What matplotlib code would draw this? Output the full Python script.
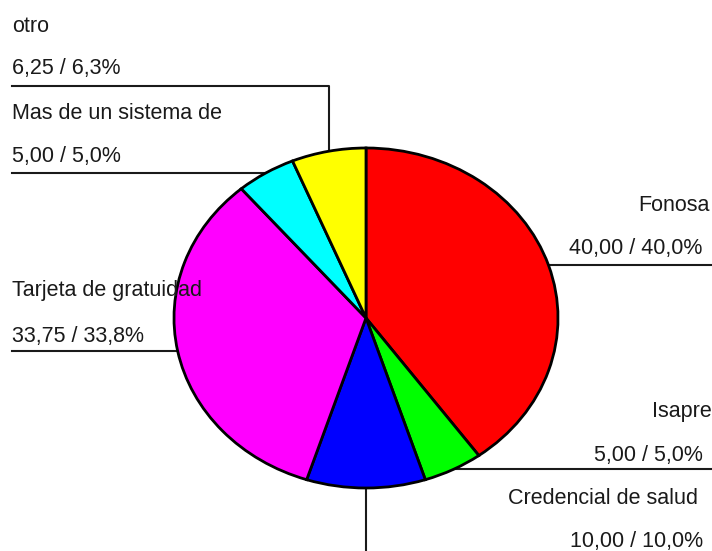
import numpy as np
import matplotlib.pyplot as plt

labels = ["Fonosa", "Isapre", "Credencial de salud", "Tarjeta de gratuidad",
          "Mas de un sistema de", "otro"]
values = [40.00, 5.00, 10.00, 33.75, 5.00, 6.25]
value_text = ["40,00 / 40,0%", "5,00 / 5,0%", "10,00 / 10,0%", "33,75 / 33,8%",
              "5,00 / 5,0%", "6,25 / 6,3%"]
colors = ["#ff0000", "#00ff00", "#0000ff", "#ff00ff", "#00ffff", "#ffff00"]

W, H = 712, 551
cx, cy, rx, ry = 366, 318, 192, 170   # pie centre / radii in pixels

plt.rcParams['font.family'] = ['Liberation Sans', 'DejaVu Sans']

fig = plt.figure(figsize=(W / 100, H / 100), dpi=100)
ax = fig.add_axes([0, 0, 1, 1])
ax.axis('off')

wedges, _ = ax.pie(values, colors=colors, startangle=90, counterclock=False,
                   radius=1, center=(0, 0),
                   wedgeprops=dict(edgecolor='black', linewidth=2))
ax.set_aspect('auto')
ax.set_xlim(-cx / rx, (W - cx) / rx)
ax.set_ylim(-(H - cy) / ry, cy / ry)


def px(x, y):
    # pixel (from top-left) -> data
    return (x - cx) / rx, (cy - y) / ry


def edge_point(w):
    a = np.deg2rad((w.theta1 + w.theta2) / 2)
    return np.cos(a), np.sin(a)


line_kw = dict(color='#1a1a1a', linewidth=1.5, zorder=0)
txt_kw = dict(fontsize=15.5, color='#1a1a1a', va='baseline', zorder=5)

# Fonosa -> right
x0, y0 = edge_point(wedges[0])
ax.plot([x0, px(W, 0)[0]], [y0, y0], **line_kw)
# Isapre -> right
x0, y0 = edge_point(wedges[1])
ax.plot([x0, px(W, 0)[0]], [y0, y0], **line_kw)
# Credencial -> down
x0, y0 = edge_point(wedges[2])
ax.plot([x0, x0], [y0, px(0, H)[1]], **line_kw)
# Tarjeta -> left
x0, y0 = edge_point(wedges[3])
ax.plot([x0, px(12, 0)[0]], [y0, y0], **line_kw)
# Mas de un sistema -> left
x0, y0 = edge_point(wedges[4])
ax.plot([x0, px(12, 0)[0]], [y0, y0], **line_kw)
# otro -> up then left
x0, y0 = edge_point(wedges[5])
ytop = px(0, 86)[1]
ax.plot([x0, x0, px(12, 0)[0]], [y0, ytop, ytop], **line_kw)

# text blocks (pixel positions: x, label baseline, value x, value baseline, align)
text_pos = [
    (710, 211, 702, 254, 'right'),   # Fonosa
    (712, 417, 703, 461, 'right'),   # Isapre
    (698, 504, 703, 547, 'right'),   # Credencial
    (12, 296, 12, 342, 'left'),      # Tarjeta
    (12, 119, 12, 162, 'left'),      # Mas de un sistema
    (12, 32, 12, 74, 'left'),        # otro
]
for lab, vt, (lx, ly, vx, vy, ha) in zip(labels, value_text, text_pos):
    ax.text(*px(lx, ly), lab, ha=ha, **txt_kw)
    ax.text(*px(vx, vy), vt, ha=ha, **txt_kw)

fig.savefig("out.png", dpi=100)
